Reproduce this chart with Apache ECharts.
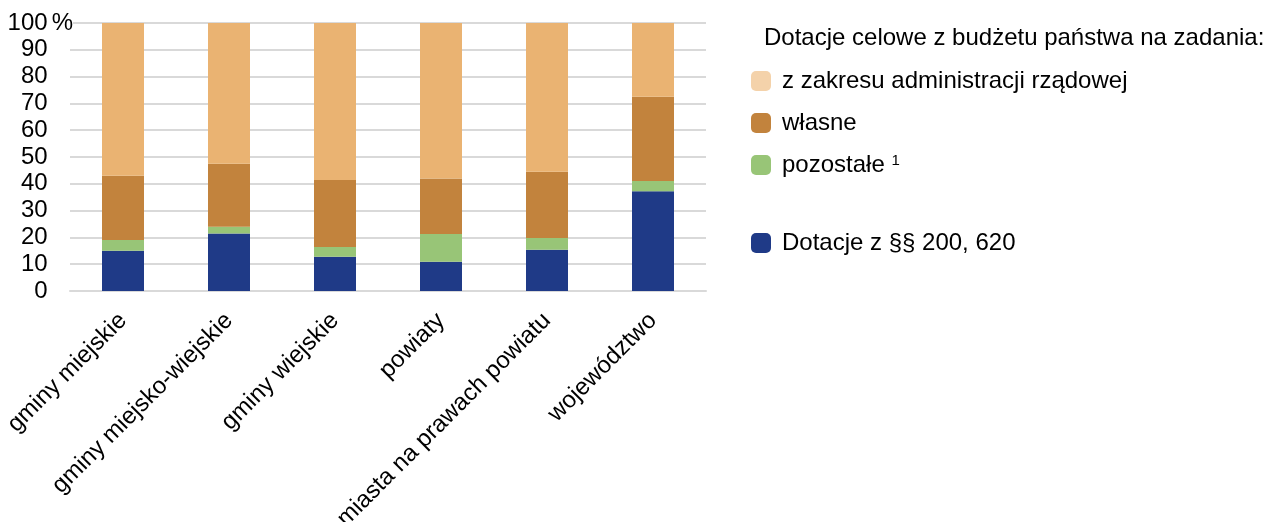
<!DOCTYPE html>
<html lang="pl">

<head>
  <meta charset="UTF-8">
  <title>Dotacje</title>
  <script src="https://cdn.jsdelivr.net/npm/echarts@6/dist/echarts.min.js"></script>
  <style>
    * {
      margin: 0;
      padding: 0;
    }

    #chart {
      width: 1266px;
      height: 522px;
      background: #fff;
    }
  </style>
</head>

<body>
  <div id="chart"></div>
</body>

<script>
  // kategorie
  var categories = ['gminy miejskie', 'gminy miejsko-wiejskie', 'gminy wiejskie', 'powiaty', 'miasta na prawach powiatu', 'województwo'];

  // udziały w % (od dołu)
  var dotacje200 = [15.0, 21.5, 12.8, 10.9, 15.4, 37.2];
  var pozostale = [4.0, 2.5, 3.6, 10.4, 4.4, 3.8];
  var wlasne = [24.0, 23.5, 25.0, 20.7, 24.7, 31.5];
  var zakresAdm = [57.0, 52.5, 58.6, 58.0, 55.5, 27.5];

  var yTicks = [0, 10, 20, 30, 40, 50, 60, 70, 80, 90, 100];

  var font = 'Liberation Sans, Arial, sans-serif';
  var fs = 24;
  var myChart = echarts.init(document.getElementById('chart'));

  var option = {
    animation: false,
    textStyle: { fontFamily: font },
    title: {
      text: 'Dotacje celowe z budżetu państwa na zadania:',
      left: 764,
      top: 26,
      padding: 0,
      textStyle: { fontSize: fs, fontWeight: 'normal', color: '#000', fontFamily: font }
    },
    legend: [{
      orient: 'vertical',
      left: 751,
      top: 69,
      padding: 0,
      itemWidth: 20,
      itemHeight: 20,
      itemGap: 18,
      icon: 'roundRect',
      selectedMode: false,
      data: [
        { name: 'z zakresu administracji rządowej', itemStyle: { color: '#F4D2AA' } },
        { name: 'własne' },
        { name: 'pozostałe' }
      ],
      formatter: function (name) {
        return name === 'pozostałe' ? 'pozostałe {sup|1}' : name;
      },
      textStyle: {
        fontSize: fs,
        color: '#000',
        fontFamily: font,
        padding: [0, 0, 0, 6],
        rich: {
          sup: { fontSize: 15, verticalAlign: 'top', color: '#000', fontFamily: font }
        }
      }
    }, {
      orient: 'vertical',
      left: 751,
      top: 231,
      padding: 0,
      itemWidth: 20,
      itemHeight: 20,
      icon: 'roundRect',
      selectedMode: false,
      data: ['Dotacje z §§ 200, 620'],
      textStyle: { fontSize: fs, color: '#000', fontFamily: font, padding: [0, 0, 0, 6] }
    }],
    grid: {
      left: 70,
      right: 560,
      top: 23,
      bottom: 231,
      containLabel: false,
      outerBoundsMode: 'none'
    },
    xAxis: {
      type: 'category',
      data: categories,
      axisTick: { show: false },
      axisLine: { lineStyle: { color: '#D9D9D9', width: 2 } },
      axisLabel: {
        rotate: 45,
        interval: 0,
        margin: 26,
        fontSize: fs,
        color: '#000',
        fontFamily: font
      }
    },
    yAxis: {
      type: 'value',
      min: yTicks[0],
      max: yTicks[yTicks.length - 1],
      interval: 10,
      axisLine: { show: false },
      axisTick: { show: false },
      splitLine: { lineStyle: { color: '#D9D9D9', width: 2 } },
      axisLabel: {
        margin: -3,
        fontSize: fs,
        color: '#000',
        fontFamily: font,
        formatter: function (v) {
          return v + (v === 100 ? '{p|%}' : '{h|%}');
        },
        rich: {
          p: { fontSize: fs, color: '#000', fontFamily: font, backgroundColor: '#fff', padding: [0, 0, 0, 4] },
          h: { fontSize: fs, color: 'transparent', fontFamily: font, padding: [0, 0, 0, 4] }
        }
      }
    },
    series: [{
      name: 'Dotacje z §§ 200, 620',
      type: 'bar',
      stack: 'a',
      barWidth: 42,
      data: dotacje200,
      itemStyle: { color: '#1F3A87' }
    }, {
      name: 'pozostałe',
      type: 'bar',
      stack: 'a',
      data: pozostale,
      itemStyle: { color: '#98C577' }
    }, {
      name: 'własne',
      type: 'bar',
      stack: 'a',
      data: wlasne,
      itemStyle: { color: '#C2833D' }
    }, {
      name: 'z zakresu administracji rządowej',
      type: 'bar',
      stack: 'a',
      data: zakresAdm,
      itemStyle: { color: '#EAB372' }
    }]
  };

  myChart.setOption(option);
</script>

</html>
